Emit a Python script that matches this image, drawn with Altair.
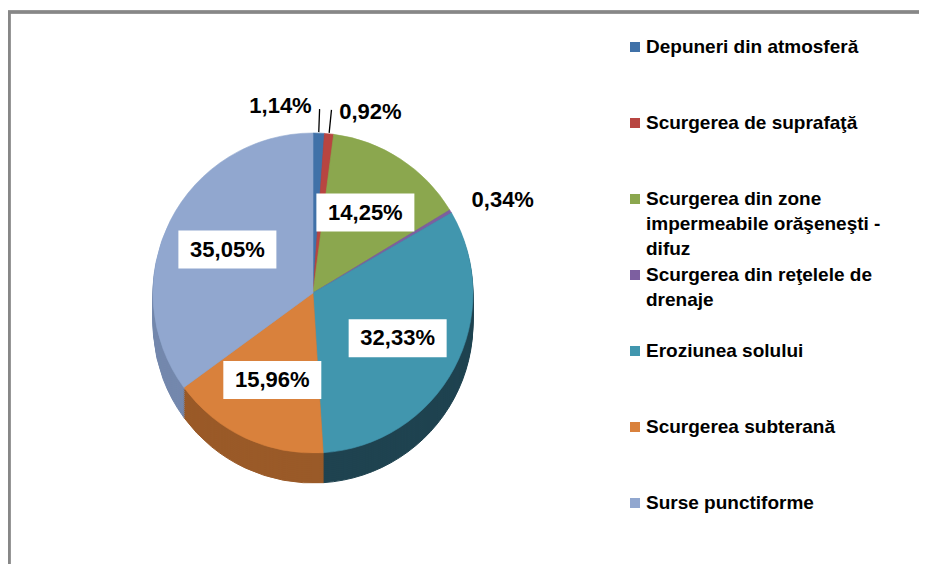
import altair as alt
import pandas as pd

# ---------------- data ----------------
categories = [
    "Depuneri din atmosferă",
    "Scurgerea de suprafaţă",
    "Scurgerea din zone impermeabile orăşeneşti - difuz",
    "Scurgerea din reţelele de drenaje",
    "Eroziunea solului",
    "Scurgerea subterană",
    "Surse punctiforme",
]
legend_labels = [
    "Depuneri din atmosferă",
    "Scurgerea de suprafaţă",
    "Scurgerea din zone\nimpermeabile orăşeneşti -\ndifuz",
    "Scurgerea din reţelele de\ndrenaje",
    "Eroziunea solului",
    "Scurgerea subterană",
    "Surse punctiforme",
]
values = [1.14, 0.92, 14.25, 0.34, 32.33, 15.96, 35.05]
colors = ["#4071A8", "#B84541", "#8BA74E", "#7D5FA0", "#4196AE", "#D9813C", "#91A7CF"]
side_colors = ["#2C5180", "#86302E", "#64793A", "#5A4475", "#1F4350", "#9A5A28", "#7488AD"]

labels = [f"{v:.2f}".replace(".", ",") + "%" for v in values]

df = pd.DataFrame({
    "idx": list(range(len(categories))),
    "cat": categories,
    "v": values,
    "lbl": labels,
    "leg": legend_labels,
    "dark": side_colors,
})

# ---------------- geometry / style ----------------
W, H = 911, 556
CX, CY = 305, 285
R = 160
RL = R * 0.6          # radius of the inside labels
BOX_W, BOX_H = 98, 38
DEPTH = 30
FONT = "Liberation Sans"

color_scale = alt.Scale(domain=categories, range=colors)

base = alt.Chart(df)

# decorative frame (top and left edges, as in the reference crop)
frame_top = alt.Chart(df).mark_rule(color="#878787", strokeWidth=2.5).encode(
    x=alt.value(0), x2=alt.value(W), y=alt.value(4)
)
frame_left = alt.Chart(df).mark_rule(color="#878787", strokeWidth=2.5).encode(
    x=alt.value(1), y=alt.value(4), y2=alt.value(H)
)

# side walls of the pie (stacked darker copies shifted downward)
depth_layers = []
for k in range(DEPTH, 0, -2):
    depth_layers.append(
        base.mark_arc(radius=R, strokeWidth=1).encode(
            theta=alt.Theta("v:Q", stack=True),
            order=alt.Order("idx:Q"),
            fill=alt.Fill("dark:N", scale=None),
            stroke=alt.Stroke("dark:N", scale=None),
            x=alt.value(CX),
            y=alt.value(CY + k),
        )
    )

# top face
top = base.mark_arc(radius=R, strokeWidth=0.6).encode(
    theta=alt.Theta("v:Q", stack=True),
    order=alt.Order("idx:Q"),
    color=alt.Color("cat:N", scale=color_scale, legend=None),
    stroke=alt.Stroke("cat:N", scale=color_scale, legend=None),
    x=alt.value(CX),
    y=alt.value(CY),
)

# mid-angle of each slice (radians) computed from the data
mid = base.transform_window(
    cum="sum(v)", sort=[alt.SortField("idx")]
).transform_joinaggregate(
    total="sum(v)"
).transform_calculate(
    mid="(datum.cum - datum.v / 2) / datum.total * 2 * PI"
)

# leader lines for the two tiny slices at the top
leaders = mid.transform_filter("datum.idx <= 1").mark_arc(
    radius=R + 1, radius2=R + 24, stroke="black", strokeWidth=1.3, fill="transparent"
).encode(
    theta=alt.Theta("mid:Q", scale=None, stack=False),
    theta2="mid:Q",
    x=alt.value(CX),
    y=alt.value(CY),
)

# inside labels with white boxes
big = mid.transform_filter("datum.v >= 5")
boxes = big.transform_calculate(
    bx=f"{CX} + {RL} * sin(datum.mid)",
    by=f"{CY} - {RL} * cos(datum.mid)",
).transform_calculate(
    bx0=f"datum.bx - {BOX_W / 2}", bx1=f"datum.bx + {BOX_W / 2}",
    by0=f"datum.by - {BOX_H / 2}", by1=f"datum.by + {BOX_H / 2}",
).mark_rect(color="white").encode(
    x=alt.X("bx0:Q", scale=None, axis=None), x2="bx1:Q",
    y=alt.Y("by0:Q", scale=None, axis=None), y2="by1:Q",
)
big_text = big.mark_text(
    radius=RL, font=FONT, fontSize=22, fontWeight="bold", color="black",
    baseline="middle", align="center"
).encode(
    theta=alt.Theta("mid:Q", scale=None, stack=False),
    text="lbl:N",
    x=alt.value(CX), y=alt.value(CY),
)

lbl0 = mid.transform_filter("datum.idx == 0").mark_text(
    radius=R + 27, font=FONT, fontSize=22, fontWeight="bold", color="black",
    baseline="middle", align="right", dx=-8
).encode(
    theta=alt.Theta("mid:Q", scale=None, stack=False),
    text="lbl:N", x=alt.value(CX), y=alt.value(CY),
)
lbl1 = mid.transform_filter("datum.idx == 1").mark_text(
    radius=R + 22, font=FONT, fontSize=22, fontWeight="bold", color="black",
    baseline="middle", align="left", dx=8
).encode(
    theta=alt.Theta("mid:Q", scale=None, stack=False),
    text="lbl:N", x=alt.value(CX), y=alt.value(CY),
)
lbl3 = mid.transform_filter("datum.idx == 3").mark_text(
    radius=R + 22, font=FONT, fontSize=22, fontWeight="bold", color="black",
    baseline="middle", align="left", dx=2
).encode(
    theta=alt.Theta("mid:Q", scale=None, stack=False),
    text="lbl:N", x=alt.value(CX), y=alt.value(CY),
)

# legend (manual, evenly spaced entries)
leg_y = alt.Y("idx:O", scale=alt.Scale(type="point", range=[39, 495], padding=0), axis=None)
leg_sym = base.mark_square(size=100, opacity=1).encode(
    y=leg_y,
    x=alt.value(627),
    color=alt.Color("cat:N", scale=color_scale, legend=None),
)
leg_txt = base.mark_text(
    font=FONT, fontSize=19, fontWeight="bold", color="black", align="left",
    baseline="top", dy=-9, lineBreak="\n", lineHeight=25
).encode(
    y=leg_y,
    x=alt.value(638),
    text="leg:N",
)

chart = alt.layer(
    frame_top, frame_left, *depth_layers, top, leaders, boxes, big_text,
    lbl0, lbl1, lbl3, leg_sym, leg_txt
).properties(
    width=W, height=H, autosize=alt.AutoSizeParams(type="none"), padding=0,
    background="white"
).configure_view(strokeWidth=0)

chart.save("out.html", embed_options={"renderer": "svg", "actions": False})
